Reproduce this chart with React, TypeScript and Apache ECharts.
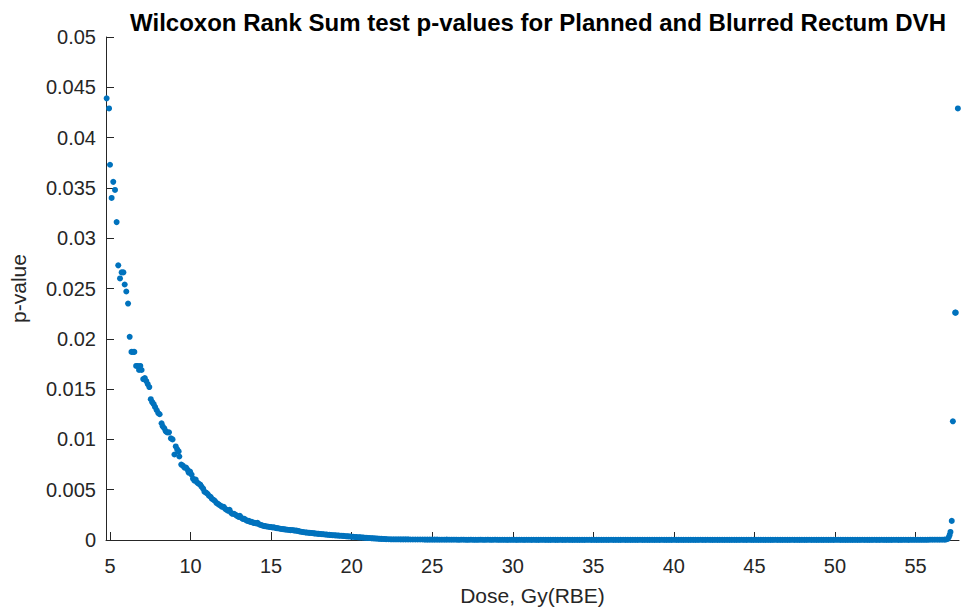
import React, { useEffect, useRef } from "react";
import * as echarts from "echarts";

const titleText = "Wilcoxon Rank Sum test p-values for Planned and Blurred Rectum DVH";
const xAxisName = "Dose, Gy(RBE)";
const yAxisName = "p-value";
const xTickValues = [5, 10, 15, 20, 25, 30, 35, 40, 45, 50, 55];

// Descending part of the curve (dose, p-value)
const doseHead = [
  4.79, 4.94, 5.0, 5.1, 5.2, 5.31, 5.41, 5.51, 5.62, 5.72, 5.83, 5.91, 6.01, 6.12, 6.22, 6.33, 6.43, 6.51,
  6.62, 6.72, 6.8, 6.88, 6.96, 7.06, 7.16, 7.25, 7.34, 7.44, 7.53, 7.62, 7.71, 7.8, 7.9, 8.0, 8.08, 8.2,
  8.27, 8.37, 8.46, 8.55, 8.66, 8.78, 8.88, 9.0, 9.08, 9.17, 9.26, 9.3, 9.42, 9.52, 9.62, 9.72, 9.8, 9.88,
  9.97, 10.06, 10.15, 10.24, 10.32, 10.42, 10.5, 10.6, 10.68, 10.78, 10.86, 10.96, 11.05, 11.14, 11.24,
  11.32, 11.42, 11.5, 11.6, 11.7, 11.78, 11.88, 11.96, 12.06, 12.15, 12.24, 12.34, 12.42, 12.52, 12.6,
  12.7, 12.8, 12.88, 12.98, 13.06, 13.16, 13.24, 13.34, 13.42, 13.52, 13.62, 13.7, 13.8, 13.9, 13.98,
  14.08, 14.16, 14.26, 14.36, 14.44, 14.54, 14.62, 14.72, 14.82, 14.9, 15.0, 15.1, 15.18, 15.28, 15.36,
  15.46, 15.56, 15.64, 15.74, 15.84, 15.92, 16.02, 16.12, 16.2, 16.3, 16.4, 16.48, 16.58, 16.66, 16.76,
  16.86, 16.94, 17.04, 17.14, 17.22, 17.32, 17.4, 17.5, 17.6, 17.68, 17.78, 17.88, 17.96, 18.06, 18.16,
  18.24, 18.34, 18.44, 18.52, 18.62, 18.7, 18.8, 18.9, 18.98, 19.08, 19.18, 19.26, 19.36, 19.46, 19.54,
  19.64, 19.72, 19.82, 19.92, 20.0, 20.1, 20.2, 20.28, 20.38, 20.48, 20.56, 20.66, 20.74, 20.84, 20.94,
  21.02, 21.12, 21.22, 21.3, 21.4, 21.5, 21.58, 21.68, 21.76, 21.86, 21.96, 22.04, 22.14,
];
const pHead = [
  0.0439, 0.0429, 0.0373, 0.034, 0.0356, 0.0348, 0.0316, 0.0273, 0.026, 0.0266, 0.0266, 0.0254, 0.0247,
  0.0235, 0.0202, 0.0187, 0.0187, 0.0187, 0.0173, 0.0173, 0.0169, 0.0173, 0.0169, 0.016, 0.0161, 0.0158,
  0.0155, 0.0152, 0.014, 0.0137, 0.0135, 0.0132, 0.0129, 0.0126, 0.0125, 0.0116, 0.0113, 0.0111, 0.0108,
  0.0107, 0.0107, 0.0101, 0.01, 0.0085, 0.0093, 0.009, 0.0088, 0.0083, 0.0075, 0.0074, 0.0072, 0.0072,
  0.007, 0.0067, 0.0068, 0.0065, 0.0061, 0.0059, 0.006, 0.0057, 0.0056, 0.0055, 0.0053, 0.0051, 0.0048,
  0.0047, 0.0046, 0.0044, 0.0043, 0.0041, 0.004, 0.0039, 0.0037, 0.0036, 0.0035, 0.0034, 0.0033, 0.0033,
  0.0031, 0.003, 0.0029, 0.003, 0.0027, 0.0026, 0.0026, 0.0025, 0.0024, 0.0023, 0.0024, 0.0022, 0.0021,
  0.0021, 0.002, 0.0019, 0.0019, 0.0018, 0.0018, 0.0017, 0.0017, 0.00165, 0.0017, 0.00155, 0.0015,
  0.00145, 0.0014, 0.00138, 0.00135, 0.00132, 0.0013, 0.00128, 0.00125, 0.00126, 0.0012, 0.00118,
  0.00116, 0.00112, 0.0011, 0.00108, 0.00106, 0.00104, 0.00102, 0.001, 0.00098, 0.00099, 0.00096,
  0.00094, 0.00093, 0.0009, 0.00086, 0.00082, 0.0008, 0.00077, 0.00075, 0.00074, 0.00072, 0.00071,
  0.0007, 0.00068, 0.00066, 0.00064, 0.00063, 0.00061, 0.0006, 0.00058, 0.00057, 0.00055, 0.00054,
  0.00052, 0.00051, 0.0005, 0.00048, 0.00047, 0.00046, 0.00045, 0.00044, 0.00043, 0.00042, 0.00041,
  0.0004, 0.00038, 0.00037, 0.00036, 0.00035, 0.00033, 0.00032, 0.0003, 0.00029, 0.00028, 0.00027,
  0.00026, 0.00025, 0.00024, 0.00022, 0.00021, 0.0002, 0.00019, 0.00018, 0.00017, 0.00016, 0.00015,
  0.00014, 0.00013, 0.00012, 0.00011, 0.0001, 0.0001, 0.00009,
];

// Flat tail (dose, p-value)
const doseTail = [
  22.3, 22.6, 22.9, 23.2, 23.5, 23.8, 24.1, 24.4, 24.7, 25.0, 25.3, 25.6, 25.9, 26.2, 26.5, 26.8, 27.1,
  27.4, 27.7, 28.0, 28.3, 28.6, 28.9, 29.2, 29.5, 29.8, 30.1, 30.4, 30.7, 31.0, 31.3, 31.6, 31.9, 32.2,
  32.5, 32.8, 33.1, 33.4, 33.7, 34.0, 34.3, 34.6, 34.9, 35.2, 35.5, 35.8, 36.1, 36.4, 36.7, 37.0, 37.3,
  37.6, 37.9, 38.2, 38.5, 38.8, 39.1, 39.4, 39.7, 40.0, 40.3, 40.6, 40.9, 41.2, 41.5, 41.8, 42.1, 42.4,
  42.7, 43.0, 43.3, 43.6, 43.9, 44.2, 44.5, 44.8, 45.1, 45.4, 45.7, 46.0, 46.3, 46.6, 46.9, 47.2, 47.5,
  47.8, 48.1, 48.4, 48.7, 49.0, 49.3, 49.6, 49.9, 50.2, 50.5, 50.8, 51.1, 51.4, 51.7, 52.0, 52.3, 52.6,
  52.9, 53.2, 53.5, 53.8, 54.1, 54.4, 54.7, 55.0, 55.3, 55.6, 55.9, 56.2, 56.5, 56.8,
];
const pTail = [
  0.00008, 0.00007, 0.00007, 0.00006, 0.00006, 0.00005, 0.00005, 0.00005, 0.00004, 0.00004, 0.00004,
  0.00003, 0.00004, 0.00003, 0.00003, 0.00003, 0.00002, 0.00003, 0.00002, 0.00003, 0.00002, 0.00002,
  0.00003, 0.00002, 0.00002, 0.00002, 0.00002, 0.00002, 0.00001, 0.00002, 0.00002, 0.00001, 0.00002,
  0.00001, 0.00002, 0.00001, 0.00001, 0.00002, 0.00001, 0.00001, 0.00001, 0.00002, 0.00001, 0.00001,
  0.00001, 0.00001, 0.00002, 0.00001, 0.00001, 0.00001, 0.00001, 0.00001, 0.00002, 0.00001, 0.00001,
  0.00001, 0.00001, 0.00001, 0.00001, 0.00002, 0.00001, 0.00001, 0.00001, 0.00001, 0.00001, 0.00001,
  0.00002, 0.00001, 0.00001, 0.00001, 0.00001, 0.00001, 0.00001, 0.00002, 0.00001, 0.00001, 0.00001,
  0.00001, 0.00001, 0.00001, 0.00002, 0.00001, 0.00001, 0.00001, 0.00001, 0.00001, 0.00001, 0.00002,
  0.00001, 0.00001, 0.00001, 0.00001, 0.00001, 0.00002, 0.00001, 0.00001, 0.00001, 0.00001, 0.00002,
  0.00001, 0.00001, 0.00001, 0.00002, 0.00001, 0.00001, 0.00002, 0.00001, 0.00002, 0.00002, 0.00002,
  0.00002, 0.00002, 0.00003, 0.00003, 0.00003, 0.00004,
];

// Interleaved tail doses (between the ones above)
const doseTailMid = [
  22.45, 22.75, 23.05, 23.35, 23.65, 23.95, 24.25, 24.55, 24.85, 25.15, 25.45, 25.75, 26.05, 26.35, 26.65,
  26.95, 27.25, 27.55, 27.85, 28.15, 28.45, 28.75, 29.05, 29.35, 29.65, 29.95, 30.25, 30.55, 30.85, 31.15,
  31.45, 31.75, 32.05, 32.35, 32.65, 32.95, 33.25, 33.55, 33.85, 34.15, 34.45, 34.75, 35.05, 35.35, 35.65,
  35.95, 36.25, 36.55, 36.85, 37.15, 37.45, 37.75, 38.05, 38.35, 38.65, 38.95, 39.25, 39.55, 39.85, 40.15,
  40.45, 40.75, 41.05, 41.35, 41.65, 41.95, 42.25, 42.55, 42.85, 43.15, 43.45, 43.75, 44.05, 44.35, 44.65,
  44.95, 45.25, 45.55, 45.85, 46.15, 46.45, 46.75, 47.05, 47.35, 47.65, 47.95, 48.25, 48.55, 48.85, 49.15,
  49.45, 49.75, 50.05, 50.35, 50.65, 50.95, 51.25, 51.55, 51.85, 52.15, 52.45, 52.75, 53.05, 53.35, 53.65,
  53.95, 54.25, 54.55, 54.85, 55.15, 55.45, 55.75, 56.05, 56.35, 56.65,
];
const pTailMid = [
  0.00007, 0.00007, 0.00006, 0.00006, 0.00005, 0.00005, 0.00005, 0.00004, 0.00004, 0.00004, 0.00003,
  0.00003, 0.00003, 0.00003, 0.00002, 0.00003, 0.00002, 0.00002, 0.00002, 0.00002, 0.00003, 0.00002,
  0.00002, 0.00002, 0.00001, 0.00002, 0.00001, 0.00002, 0.00002, 0.00001, 0.00001, 0.00002, 0.00001,
  0.00001, 0.00001, 0.00002, 0.00001, 0.00001, 0.00001, 0.00001, 0.00001, 0.00002, 0.00001, 0.00001,
  0.00001, 0.00001, 0.00001, 0.00001, 0.00002, 0.00001, 0.00001, 0.00001, 0.00001, 0.00001, 0.00001,
  0.00001, 0.00002, 0.00001, 0.00001, 0.00001, 0.00001, 0.00001, 0.00001, 0.00001, 0.00002, 0.00001,
  0.00001, 0.00001, 0.00001, 0.00001, 0.00001, 0.00001, 0.00001, 0.00001, 0.00002, 0.00001, 0.00001,
  0.00001, 0.00001, 0.00001, 0.00001, 0.00001, 0.00001, 0.00002, 0.00001, 0.00001, 0.00001, 0.00001,
  0.00001, 0.00001, 0.00001, 0.00001, 0.00002, 0.00001, 0.00001, 0.00001, 0.00001, 0.00001, 0.00001,
  0.00001, 0.00002, 0.00001, 0.00001, 0.00001, 0.00002, 0.00001, 0.00002, 0.00001, 0.00002, 0.00002,
  0.00002, 0.00002, 0.00003, 0.00003, 0.00003,
];

// Rise at the highest doses (dose, p-value)
const doseEnd = [56.9, 57.0, 57.07, 57.12, 57.17, 57.25, 57.32, 57.46, 57.5, 57.63];
const pEnd = [0.00005, 0.0001, 0.0003, 0.0005, 0.0008, 0.0019, 0.0118, 0.0226, 0.0226, 0.0429];

const allDose = [...doseHead, ...doseTail, ...doseTailMid, ...doseEnd];
const allP = [...pHead, ...pTail, ...pTailMid, ...pEnd];

const FONT = "'Liberation Sans', Arial, Helvetica, sans-serif";
const AXIS_COLOR = "#262626";

export default function App() {
  const ref = useRef<HTMLDivElement>(null);
  useEffect(() => {
    if (!ref.current) return;
    const chart = echarts.init(ref.current, null, { renderer: "svg" });
    const data = allDose.map((d, i) => [d, allP[i]]);
    chart.setOption({
      animation: false,
      backgroundColor: "#ffffff",
      title: {
        text: titleText,
        left: 533,
        textAlign: "center",
        top: 5,
        textStyle: { fontFamily: FONT, fontWeight: "bold", fontSize: 24, color: "#000000" },
      },
      grid: { left: 106, right: 10, top: 37, bottom: 70, containLabel: false },
      xAxis: {
        type: "value",
        min: 4.75,
        max: 57.7,
        name: xAxisName,
        nameLocation: "middle",
        nameGap: 45,
        nameTextStyle: { fontFamily: FONT, fontSize: 21, color: AXIS_COLOR },
        axisLine: { show: true, onZero: false, lineStyle: { color: AXIS_COLOR, width: 1 } },
        axisTick: {
          show: true,
          inside: true,
          length: 8,
          customValues: xTickValues,
          lineStyle: { color: AXIS_COLOR },
        },
        axisLabel: {
          customValues: xTickValues,
          margin: 16,
          fontFamily: FONT,
          fontSize: 20,
          color: AXIS_COLOR,
        },
        splitLine: { show: false },
      },
      yAxis: {
        type: "value",
        min: 0,
        max: 0.05,
        interval: 0.005,
        name: yAxisName,
        nameLocation: "middle",
        nameGap: 77,
        nameRotate: 90,
        nameTextStyle: { fontFamily: FONT, fontSize: 21, color: AXIS_COLOR },
        axisLine: { show: true, lineStyle: { color: AXIS_COLOR, width: 1 } },
        axisTick: { show: true, inside: true, length: 8, lineStyle: { color: AXIS_COLOR } },
        axisLabel: {
          margin: 10,
          fontFamily: FONT,
          fontSize: 20,
          color: AXIS_COLOR,
        },
        splitLine: { show: false },
      },
      series: [
        {
          type: "scatter",
          data,
          symbol: "circle",
          symbolSize: 6,
          clip: false,
          itemStyle: { color: "#0072BD", opacity: 1 },
        },
      ],
    });
    return () => chart.dispose();
  }, []);
  return (
    <div
      ref={ref}
      style={{ position: "absolute", left: 0, top: 0, width: 969, height: 611 }}
    />
  );
}
